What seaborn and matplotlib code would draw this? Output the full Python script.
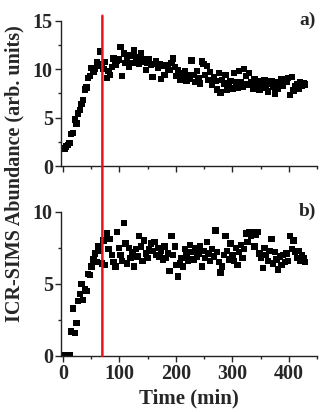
import numpy as np
import pandas as pd
import seaborn as sns
import matplotlib.pyplot as plt
from matplotlib.patches import ConnectionPatch
from matplotlib.ticker import MultipleLocator

# Données
time_min = [3, 6, 9, 12, 15, 18, 21, 24, 27, 30, 33, 36, 39, 42, 45, 48, 51, 54, 57, 60,
            63, 66, 69, 72, 75, 78, 81, 84, 87, 90, 93, 96, 99, 102, 105, 108, 111, 114, 117, 120,
            123, 126, 129, 132, 135, 138, 141, 144, 147, 150, 153, 156, 159, 162, 165, 168, 171, 174, 177, 180,
            183, 186, 189, 192, 195, 198, 201, 204, 207, 210, 213, 216, 219, 222, 225, 228, 231, 234, 237, 240,
            243, 246, 249, 252, 255, 258, 261, 264, 267, 270, 273, 276, 279, 282, 285, 288, 291, 294, 297, 300,
            303, 306, 309, 312, 315, 318, 321, 324, 327, 330, 333, 336, 339, 342, 345, 348, 351, 354, 357, 360,
            363, 366, 369, 372, 375, 378, 381, 384, 387, 390, 393, 396, 399, 402, 405, 408, 411, 414, 417, 420,
            423, 426, 429]

abundance_a = [1.8, 2.0, 2.2, 2.4, 3.3, 3.4, 4.8, 4.4, 5.4, 5.8, 6.4, 6.8, 7.9, 8.1, 9.1, 9.3, 10.1, 9.7, 10.0, 10.7,
               10.3, 11.8, 10.5, 10.0, 10.7, 9.1, 9.8, 9.4, 10.2, 11.1, 10.4, 10.9, 11.0, 12.3, 9.3, 11.6, 10.6, 11.1, 10.2, 11.4,
               10.6, 11.9, 10.8, 11.2, 10.5, 11.6, 10.7, 11.0, 9.9, 10.6, 11.0, 10.4, 9.2, 10.5, 10.8, 10.1, 10.5, 9.0, 10.3, 9.4,
               10.4, 10.0, 9.9, 10.6, 11.1, 10.2, 9.3, 9.9, 8.9, 9.6, 9.2, 9.8, 8.8, 9.4, 9.0, 10.9, 9.4, 8.7, 9.8, 9.1,
               8.5, 10.8, 10.5, 9.4, 10.3, 8.9, 9.7, 8.4, 9.2, 8.8, 7.9, 9.6, 7.6, 8.9, 8.5, 9.4, 7.9, 8.3, 8.8, 8.0,
               9.6, 8.6, 8.1, 9.8, 8.7, 8.2, 10.0, 9.3, 8.4, 9.6, 8.7, 8.0, 9.0, 8.5, 8.8, 7.9, 8.6, 8.3, 8.9, 8.1,
               7.7, 8.5, 8.8, 8.2, 7.5, 8.7, 8.0, 8.6, 9.0, 8.3, 8.9, 8.7, 9.1, 7.3, 9.2, 7.8, 8.2, 8.4, 8.0, 8.6,
               8.3, 8.5, 8.4]

abundance_b = [0.05, 0.05, 0.05, 0.05, 1.7, 3.3, 1.6, 2.3, 3.8, 4.3, 5.0, 3.9, 4.6, 4.5, 5.7, 5.6, 6.2, 6.7, 7.1, 6.5,
               7.6, 7.3, 6.4, 8.0, 6.3, 8.5, 7.4, 8.1, 7.0, 6.5, 6.2, 8.6, 7.5, 7.0, 6.6, 9.2, 7.8, 6.4, 7.5, 6.8,
               7.2, 6.2, 7.4, 6.9, 8.3, 7.6, 6.6, 8.0, 7.1, 6.8, 7.4, 7.8, 7.3, 7.9, 7.0, 7.5, 6.9, 7.3, 6.7, 7.6,
               6.8, 7.1, 5.9, 8.3, 7.0, 7.6, 6.3, 5.5, 6.4, 6.8, 6.2, 7.4, 7.0, 6.6, 7.7, 7.2, 6.7, 7.5, 6.9, 7.1,
               7.6, 6.2, 7.3, 6.8, 7.9, 7.1, 6.6, 7.4, 6.9, 8.7, 7.2, 6.5, 5.8, 6.2, 7.0, 8.3, 7.3, 6.7, 7.8, 7.0,
               6.6, 7.5, 6.3, 7.2, 7.7, 6.8, 7.4, 8.5, 7.9, 8.6, 8.3, 8.6, 7.6, 8.4, 8.6, 7.1, 6.8, 6.1, 7.5, 7.0,
               6.6, 7.3, 8.1, 6.4, 7.2, 6.7, 6.0, 6.9, 6.3, 7.0, 6.5, 7.1, 6.6, 8.3, 7.4, 8.0, 7.2, 6.8, 7.3, 6.6,
               7.0, 6.8, 6.5]

marker_time = 70  # ligne rouge verticale

df = pd.DataFrame({"time": time_min, "a": abundance_a, "b": abundance_b})

sns.set_style("ticks")
plt.rcParams["font.family"] = ["Liberation Serif", "DejaVu Serif"]
plt.rcParams["font.weight"] = "bold"

fig = plt.figure(figsize=(3.2, 4.12), dpi=100)
ax_a = fig.add_axes([0.191, 0.597, 0.80, 0.353])
ax_b = fig.add_axes([0.191, 0.136, 0.80, 0.350])

for ax, col, ymax, lab in [(ax_a, "a", 15, "a)"), (ax_b, "b", 10, "b)")]:
    sns.scatterplot(data=df, x="time", y=col, ax=ax, marker="s", s=21,
                    color="black", edgecolor="none", linewidth=0)
    ax.set_xlim(-3, 450)
    ax.set_ylim(0, ymax)
    ax.xaxis.set_major_locator(MultipleLocator(100))
    ax.xaxis.set_minor_locator(MultipleLocator(50))
    ax.yaxis.set_major_locator(MultipleLocator(5))
    ax.yaxis.set_minor_locator(MultipleLocator(2.5))
    ax.tick_params(which="major", direction="out", length=4, width=1, labelsize=14.5, pad=2)
    ax.tick_params(which="minor", direction="out", length=2.5, width=1)
    sns.despine(ax=ax)
    for sp in ["left", "bottom"]:
        ax.spines[sp].set_linewidth(1)
        ax.spines[sp].set_color("#222222")
    ax.set_xlabel("")
    ax.set_ylabel("")
    for t in ax.get_xticklabels() + ax.get_yticklabels():
        t.set_fontweight("bold")
    ax.text(0.995, 1.0, lab, transform=ax.transAxes, ha="right", va="center",
            fontsize=14, fontweight="bold")

ax_a.tick_params(axis="x", labelbottom=False)
ax_b.set_xlabel("Time (min)", fontsize=15, fontweight="bold", labelpad=3)
fig.text(0.045, 0.578, "ICR-SIMS Abundance (arb. units)", rotation=90,
         ha="center", va="center", fontsize=14.5, fontweight="bold")

# ligne rouge qui traverse les deux panneaux
line = ConnectionPatch(xyA=(marker_time, 15.5), coordsA=ax_a.transData,
                       xyB=(marker_time, 0), coordsB=ax_b.transData,
                       color="#e8141c", linewidth=1.8, zorder=5)
fig.add_artist(line)

fig.savefig("out.png", dpi=100)
